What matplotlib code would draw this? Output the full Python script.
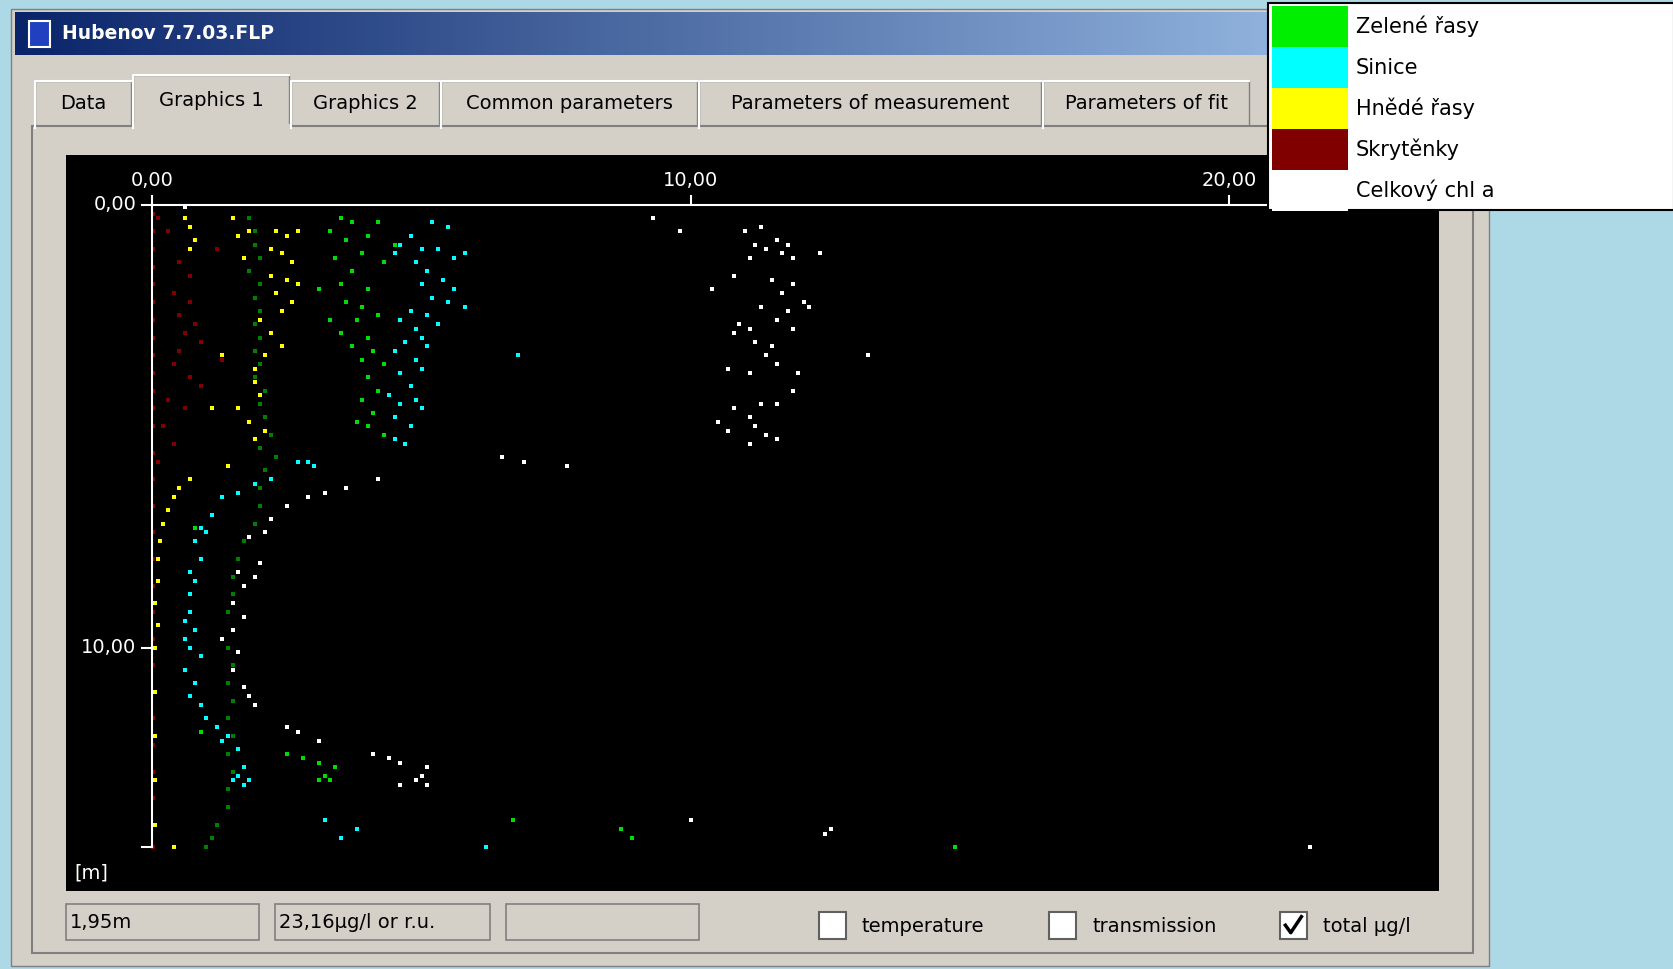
import numpy as np
import matplotlib.pyplot as plt
from matplotlib.patches import Rectangle
from matplotlib.colors import LinearSegmentedColormap

# --- data (x = concentration, h = depth in m) ---
celk_x = [11.3, 11.0, 11.6, 11.2, 11.8, 11.4, 11.7, 11.9, 11.1, 10.4, 10.8, 11.5, 11.9, 11.7, 12.1, 11.3, 11.8, 12.2,
          11.6, 10.9, 11.1, 10.8, 11.9, 11.2, 11.5, 11.4, 10.7, 11.6, 11.1, 12.0, 11.9, 11.3, 10.8, 11.6, 11.1, 10.5,
          11.2, 10.7, 11.4, 11.1, 11.6, 9.3, 9.8, 12.4, 13.3, 0.6,
          6.5, 6.9, 7.7, 4.2, 3.6, 2.9, 3.2, 2.5, 2.2, 2.1, 1.8, 2.0, 1.6, 1.9, 1.7, 1.5, 1.7, 1.5, 1.3, 1.6, 1.5, 1.7,
          1.8, 1.9, 2.5, 2.7, 3.1, 4.1, 4.4, 4.6, 5.1, 5.0, 4.9, 4.6, 5.1, 10.0, 12.6, 12.5, 21.5]
celk_h = [0.5, 0.6, 0.8, 0.9, 0.9, 1.0, 1.1, 1.2, 1.2, 1.9, 1.6, 1.7, 1.8, 2.0, 2.2, 2.3, 2.4, 2.3,
          2.6, 2.7, 2.8, 2.9, 2.8, 3.1, 3.2, 3.4, 3.7, 3.6, 3.8, 3.8, 4.2, 4.5, 4.6, 4.5, 4.8, 4.9,
          5.0, 5.1, 5.2, 5.4, 5.3, 0.3, 0.6, 1.1, 3.4, 0.05,
          5.7, 5.8, 5.9, 6.2, 6.4, 6.6, 6.5, 6.8, 7.1, 7.4, 7.5, 8.1, 8.3, 8.4, 8.6, 9.0, 9.3, 9.6, 9.8, 10.1, 10.5, 10.9,
          11.1, 11.3, 11.8, 11.9, 12.1, 12.4, 12.5, 12.6, 12.7, 12.9, 13.0, 13.1, 13.1, 13.9, 14.1, 14.2, 14.5]

sin_x = [5.2, 5.5, 4.8, 4.6, 5.0, 5.3, 4.5, 5.8, 5.6, 4.9, 5.1, 5.4, 5.0, 5.6, 5.2, 5.5, 5.8, 4.8, 5.1, 4.6, 5.3,
         4.9, 5.0, 4.7, 5.1, 4.5, 4.9, 5.0, 4.6, 4.8, 4.4, 4.9, 4.6, 5.0, 4.5, 4.8, 4.5, 4.7, 6.8,
         2.9, 3.0, 2.7, 2.2, 1.9, 1.6, 1.3, 1.1, 0.9, 1.0, 0.8, 0.9, 0.7, 0.8, 0.7, 0.7, 0.6, 0.8, 0.6, 0.7, 0.9,
         0.6, 0.8, 0.7, 0.9, 1.0, 1.2, 1.4, 1.3, 1.6, 1.7, 1.6, 1.8, 1.7, 1.5, 3.2, 3.5, 3.8, 6.2]
sin_h = [0.4, 0.5, 0.7, 0.9, 1.0, 1.0, 1.1, 1.1, 1.2, 1.3, 1.5, 1.7, 1.8, 1.9, 2.1, 2.2, 2.3, 2.4, 2.5, 2.6, 2.7,
         2.8, 3.0, 3.1, 3.2, 3.3, 3.5, 3.7, 3.8, 4.1, 4.3, 4.4, 4.5, 4.6, 4.8, 5.0, 5.3, 5.4, 3.4,
         5.8, 5.9, 5.8, 6.2, 6.3, 6.5, 6.6, 7.0, 7.3, 7.4, 7.6, 8.0, 8.3, 8.5, 8.8, 9.2, 9.4, 9.6, 9.8, 10.0, 10.2,
         10.5, 10.8, 11.1, 11.3, 11.6, 11.8, 12.0, 12.1, 12.3, 12.7, 12.9, 13.0, 13.1, 13.0, 13.9, 14.3, 14.1, 14.5]

zel_x = [3.5, 3.7, 4.2, 3.3, 4.0, 3.6, 4.5, 3.9, 3.4, 4.3, 3.7, 3.1, 3.5, 4.0, 3.6, 3.9, 3.3, 3.8, 4.2, 3.5, 4.0,
         3.7, 4.1, 3.9, 4.3, 4.0, 4.2, 3.9, 4.1, 3.8, 4.0, 4.3,
         2.5, 2.8, 3.1, 3.4, 3.2, 3.1, 3.3, 6.7, 8.7, 8.9, 14.9, 0.8, 0.9]
zel_h = [0.3, 0.4, 0.4, 0.6, 0.7, 0.8, 0.9, 1.1, 1.2, 1.3, 1.5, 1.9, 1.8, 1.9, 2.2, 2.3, 2.6, 2.6, 2.5, 2.9, 3.0,
         3.2, 3.3, 3.5, 3.6, 3.9, 4.2, 4.4, 4.7, 4.9, 5.0, 5.2,
         12.4, 12.5, 12.6, 12.7, 12.9, 13.0, 13.0, 13.9, 14.1, 14.3, 14.5, 7.3, 11.9]

# darker green trace
zel2_x = [1.8, 1.9, 1.9, 2.0, 1.8, 2.0, 1.9, 2.0, 1.9, 2.0, 1.9, 2.0, 1.9, 2.1, 2.0, 2.1, 2.2, 2.0, 2.3, 2.1,
          2.0, 2.0, 1.9, 1.7, 1.6, 1.5, 1.5, 1.4, 1.5, 1.4, 1.5, 1.4, 1.5, 1.4, 1.5, 1.4, 1.5, 1.4, 1.4, 1.2, 1.1, 1.0]
zel2_h = [0.3, 0.6, 0.9, 1.2, 1.5, 1.8, 2.1, 2.4, 2.7, 3.0, 3.3, 3.6, 3.9, 4.2, 4.5, 4.8, 5.2, 5.5, 5.7, 6.0,
          6.4, 6.8, 7.2, 7.6, 8.0, 8.4, 8.8, 9.2, 9.6, 10.0, 10.4, 10.8, 11.2, 11.6, 12.0, 12.4, 12.8, 13.2, 13.6,
          14.0, 14.3, 14.5]

hne_x = [0.6, 0.7, 1.5, 1.6, 1.8, 2.3, 2.5, 2.7, 0.8, 0.7, 2.2, 2.4, 1.7, 2.6, 2.2, 2.5, 2.7, 2.3, 2.6, 2.4,
         2.0, 2.2, 2.4, 1.3, 2.1, 1.9, 1.9, 2.0, 1.1, 1.6, 1.8, 2.1, 1.9, 2.0, 1.4, 0.7, 0.5, 0.4, 0.3, 0.2,
         0.15, 0.1, 0.1, 0.05, 0.1, 0.05, 0.05, 0.05, 0.05, 0.05, 0.4]
hne_h = [0.3, 0.5, 0.3, 0.7, 0.6, 0.6, 0.7, 0.6, 0.8, 1.0, 1.0, 1.1, 1.2, 1.3, 1.6, 1.7, 1.8, 2.0, 2.2, 2.4,
         2.6, 2.9, 3.2, 3.4, 3.4, 3.7, 4.0, 4.3, 4.6, 4.6, 4.9, 5.1, 5.3, 5.5, 5.9, 6.2, 6.4, 6.6, 6.9, 7.2,
         7.6, 8.0, 8.5, 9.0, 9.5, 10.0, 11.0, 12.0, 13.0, 14.0, 14.5]

skr_x = [0.1, 0.3, 1.2, 0.5, 0.7, 0.4, 0.7, 0.5, 0.8, 0.6, 0.9, 0.5, 0.4, 1.3, 0.7, 0.9, 0.3, 0.6, 0.2, 0.4, 0.1,
         0.02, 0.02, 0.02, 0.02, 0.02, 0.02, 0.02, 0.02, 0.02, 0.02, 0.02, 0.02, 0.02, 0.02, 0.02, 0.02, 0.02,
         0.02, 0.02, 0.02, 0.02, 0.02, 0.02, 0.02, 0.02, 0.02, 0.02, 0.02, 0.02]
skr_h = [0.3, 0.6, 1.0, 1.3, 1.6, 2.0, 2.2, 2.5, 2.7, 2.9, 3.1, 3.3, 3.6, 3.5, 3.9, 4.1, 4.4, 4.6, 5.0, 5.4, 5.8,
         0.2, 0.6, 1.0, 1.4, 1.8, 2.2, 2.6, 3.0, 3.4, 3.8, 4.2, 4.6, 5.0, 5.6, 6.2, 6.8, 7.4, 8.0, 8.6, 9.2,
         9.8, 10.4, 11.0, 11.6, 12.2, 12.8, 13.4, 14.0, 14.5]

x_ticks = [0, 10, 20]
x_labels = ['0,00', '10,00', '20,00']
y_ticks = [0, 10]
y_labels = ['0,00', '10,00']
legend_names = ['Zelené řasy', 'Sinice', 'Hnědé řasy', 'Skrytěnky', 'Celkový chl a']
legend_colors = ['#00ee00', '#00ffff', '#ffff00', '#800000', '#ffffff']
tabs = ['Data', 'Graphics 1', 'Graphics 2', 'Common parameters', 'Parameters of measurement', 'Parameters of fit']

W, H = 1568, 908
fig = plt.figure(figsize=(16.74, 9.69), dpi=100)
fig.patch.set_facecolor('#add8e6')

# window / UI in pixel coordinates of the reference
ui = fig.add_axes([0, 0, 1, 1], zorder=0)
ui.axis('off')
ui.add_patch(Rectangle((10, 8), 1385, 897, fc='#d4d0c8', ec='#808080', lw=1))
grad = np.linspace(0, 1, 256).reshape(1, -1)
cm = LinearSegmentedColormap.from_list('tb', ['#0a246a', '#a6caf0'])
ui.imshow(grad, cmap=cm, extent=(14, 1391, 52, 12), aspect='auto', zorder=1)
ui.add_patch(Rectangle((27, 20), 20, 24, fc='#2040c0', ec='white', lw=1.5, zorder=2))
ui.text(58, 31, 'Hubenov 7.7.03.FLP', color='white', fontsize=13.5, fontweight='bold', va='center', zorder=2)
ui.set_xlim(0, W); ui.set_ylim(H, 0)

tab_x = [33, 125, 273, 413, 655, 977, 1172]
for i, t in enumerate(tabs):
    x0, x1 = tab_x[i], tab_x[i + 1] - 2
    top = 70 if i == 1 else 76
    ui.add_patch(Rectangle((x0, top), x1 - x0, 120 - top, fc='#d4d0c8', ec='#808080', lw=1, zorder=2))
    ui.plot([x0, x0, x1], [120, top, top], color='white', lw=1.5, zorder=3)
    ui.text((x0 + x1) / 2, (top + 118) / 2, t, fontsize=14, ha='center', va='center', zorder=3)
ui.add_patch(Rectangle((30, 118), 1350, 775, fc='#d4d0c8', ec='#808080', lw=1.5, zorder=2))
ui.plot([127, 270], [118, 118], color='#d4d0c8', lw=3, zorder=3)

# status fields and checkboxes
for x0, x1, txt in [(62, 243, '1,95m'), (258, 459, '23,16µg/l or r.u.'), (474, 655, '')]:
    ui.add_patch(Rectangle((x0, 847), x1 - x0, 34, fc='#d4d0c8', ec='#808080', lw=1.2, zorder=3))
    ui.text(x0 + 3, 864, txt, fontsize=14, va='center', zorder=4)
for bx, lab, chk in [(767, 'temperature', False), (983, 'transmission', False), (1199, 'total µg/l', True)]:
    ui.add_patch(Rectangle((bx, 855), 25, 25, fc='white', ec='#606060', lw=1.5, zorder=3))
    if chk:
        ui.plot([bx + 5, bx + 10, bx + 20], [867, 874, 859], color='black', lw=2.5, zorder=4)
    ui.text(bx + 40, 868, lab, fontsize=14, va='center', zorder=4)

# data plot
ax = fig.add_axes([62 / W, 1 - 835 / H, (1348 - 62) / W, (835 - 145) / H], zorder=5)
ax.set_facecolor('black')
ax.set_xlim(-1.6, 23.9)
ax.set_ylim(15.5, -1.13)
ax.set_xticks([]); ax.set_yticks([])
for s in ax.spines.values():
    s.set_visible(False)

ax.plot([0, 23.9], [0, 0], color='white', lw=1.5)
ax.plot([0, 0], [0, 14.5], color='white', lw=1.5)
for t, l in zip(x_ticks, x_labels):
    ax.plot([t, t], [0, -0.2], color='white', lw=1.5)
    ax.text(t, -0.33, l, color='white', fontsize=14, ha='center', va='bottom')
for t, l in zip(y_ticks, y_labels):
    ax.plot([0, -0.2], [t, t], color='white', lw=1.5)
    ax.text(-0.3, t, l, color='white', fontsize=14, ha='right', va='center')
ax.plot([0, -0.2], [14.5, 14.5], color='white', lw=1.5)
ax.text(-1.45, 15.1, '[m]', color='white', fontsize=14, va='center')

ms = 9
ax.scatter(skr_x, skr_h, s=ms, marker='s', color='#800000', lw=0)
ax.scatter(hne_x, hne_h, s=ms, marker='s', color='#ffff00', lw=0)
ax.scatter(zel2_x, zel2_h, s=ms, marker='s', color='#008000', lw=0)
ax.scatter(zel_x, zel_h, s=ms, marker='s', color='#00dd00', lw=0)
ax.scatter(sin_x, sin_h, s=ms, marker='s', color='#00ffff', lw=0)
ax.scatter(celk_x, celk_h, s=ms, marker='s', color='#ffffff', lw=0)

# legend box on top
lg = fig.add_axes([0, 0, 1, 1], zorder=10)
lg.set_xlim(0, W); lg.set_ylim(H, 0); lg.axis('off')
lg.add_patch(Rectangle((1188, 3), 380, 194, fc='white', ec='black', lw=1.5))
for i, (n, c) in enumerate(zip(legend_names, legend_colors)):
    y0 = 6 + i * 38.3
    lg.add_patch(Rectangle((1191, y0), 72, 38.3, fc=c, ec='none'))
    lg.text(1270, y0 + 19, n, fontsize=15, va='center')

fig.savefig('out.png', dpi=100)
